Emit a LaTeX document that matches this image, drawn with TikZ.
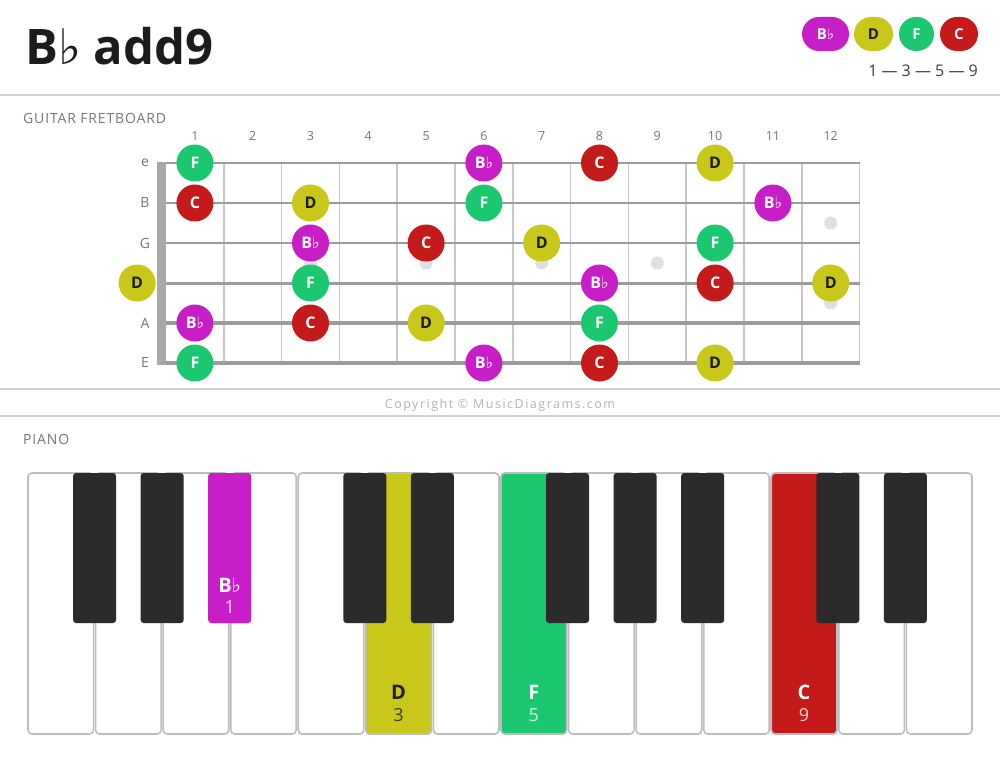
\documentclass[tikz,border=0pt]{standalone}
\usepackage{fontspec}
\setmainfont{Open Sans}
\newfontfamily\symfont{DejaVu Sans}
\usepackage{xcolor}
\definecolor{rootcol}{HTML}{C81EC8}
\definecolor{thirdcol}{HTML}{C9C81A}
\definecolor{fifthcol}{HTML}{1BC76F}
\definecolor{ninthcol}{HTML}{C41A1A}
\definecolor{darktext}{HTML}{1C1C1C}
\definecolor{rulecol}{HTML}{D2D2D2}
\definecolor{headcol}{HTML}{777777}
\definecolor{fretcol}{HTML}{C8C8C8}
\definecolor{stringcol}{HTML}{9C9C9C}
\definecolor{nutcol}{HTML}{A8A8A8}
\definecolor{dotcol}{HTML}{E0E0E0}
\definecolor{keyedge}{HTML}{BDBDBD}
\definecolor{keyblack}{HTML}{2B2B2B}
\definecolor{copycol}{HTML}{B4B4B4}
\newcommand{\flt}{{\symfont\mdseries\char"266D}}
\newcommand{\fsz}[1]{\fontsize{#1}{#1}\selectfont}

\begin{document}
\begin{tikzpicture}[x=1pt,y=-1pt]
    \pgfmathsetmacro{\nut}{166}
    \pgfmathsetmacro{\fw}{57.8}
    \pgfmathsetmacro{\kw}{67.57}
    \tikzset{
        note/.style={circle, minimum size=37pt, inner sep=0pt, font=\fsz{16}\bfseries},
        root/.style={note, fill=rootcol, text=white},
        third/.style={note, fill=thirdcol, text=darktext},
        fifth/.style={note, fill=fifthcol, text=white},
        ninth/.style={note, fill=ninthcol, text=white},
        chip/.style={rectangle, rounded corners=17pt, minimum height=34pt, font=\fsz{15}\bfseries},
        divider/.style={rulecol, line width=2pt},
        heading/.style={anchor=west, inner sep=0pt, text=headcol, font=\fsz{14}\addfontfeature{LetterSpace=6}},
        whitekey/.style={draw=keyedge, line width=1.6pt, rounded corners=4pt},
        blackkey/.style={rounded corners=3pt},
    }
    \fill[white] (0,0) rectangle (1000,759);
    \useasboundingbox (0,0) rectangle (1000,759);

    \node[anchor=base west, inner sep=0pt, font=\fsz{49}\bfseries, text=darktext] (title) at (25,65) {B\flt\ add9};

    \node[root, chip, minimum width=47pt] (leg-root) at (825.5,34) {B\flt};
    \node[third, chip, minimum width=39pt] (leg-third) at (873.5,34) {D};
    \node[fifth, chip, minimum width=35pt] (leg-fifth) at (916.5,34) {F};
    \node[ninth, chip, minimum width=38pt] (leg-ninth) at (959,34) {C};
    \node[anchor=east, inner sep=0pt, font=\fsz{16}, text=darktext!85] (formula) at (978,71) {1 — 3 — 5 — 9};

    \draw[divider] (0,95) -- (1000,95);
    \draw[divider] (0,389) -- (1000,389);
    \draw[divider] (0,416) -- (1000,416);

    \node[heading] (guitar) at (23,118) {GUITAR FRETBOARD};

    \foreach \k in {1,...,12}{
        \node[font=\fsz{12.5}, text=headcol] (fret-\k) at ({\nut+\fw*(\k-0.5)},136) {\k};
        \draw[fretcol, line width=1.6pt] ({\nut+\fw*\k},163) -- ({\nut+\fw*\k},363);
    }
    \foreach \k/\yy in {3/263,5/263,7/263,9/263,12/223,12/303}
        \fill[dotcol] ({\nut+\fw*(\k-0.5)},\yy) circle (6.5pt);
    \foreach \w [count=\i from 0] in {2,2.2,2.6,3,3.3,3.8}
        \draw[stringcol, line width=\w pt] (\nut,{163+40*\i}) -- ({\nut+\fw*12},{163+40*\i});
    \foreach \s/\i in {e/0,B/1,G/2,A/4,E/5}
        \node[font=\fsz{14}, text=headcol] (str-\s) at (145,{163+40*\i}) {\s};
    \fill[nutcol] (157,162) rectangle (\nut,365);

    \foreach \s/\k/\deg/\txt in {
        0/1/fifth/F, 0/6/root/B\flt, 0/8/ninth/C, 0/10/third/D,
        1/1/ninth/C, 1/3/third/D, 1/6/fifth/F, 1/11/root/B\flt,
        2/3/root/B\flt, 2/5/ninth/C, 2/7/third/D, 2/10/fifth/F,
        3/0/third/D, 3/3/fifth/F, 3/8/root/B\flt, 3/10/ninth/C, 3/12/third/D,
        4/1/root/B\flt, 4/3/ninth/C, 4/5/third/D, 4/8/fifth/F,
        5/1/fifth/F, 5/6/root/B\flt, 5/8/ninth/C, 5/10/third/D}
        \node[\deg] (n\s-\k) at ({\nut+\fw*(\k-0.5)},{163+40*\s}) {\txt};

    \node[font=\fsz{12.5}\addfontfeature{LetterSpace=12}, text=copycol] (copy) at (500,405) {Copyright © MusicDiagrams.com};

    \node[heading] (piano) at (23,439) {PIANO};

    \foreach \i in {0,...,13}
        \draw[whitekey, fill=white] ({27+\kw*\i+1},473) rectangle ({27+\kw*(\i+1)-1},734);
    \foreach \i/\c/\nm/\num/\tc in {5/thirdcol/D/3/darktext, 7/fifthcol/F/5/white, 11/ninthcol/C/9/white}{
        \draw[whitekey, fill=\c] ({27+\kw*\i+1},473) rectangle ({27+\kw*(\i+1)-1},734);
        \node[font=\fsz{20}\bfseries, text=\tc] (key-\nm) at ({27+\kw*(\i+0.5)},692) {\nm};
        \node[font=\fsz{18}, text=\tc!80!\c] (deg-\nm) at ({27+\kw*(\i+0.5)},715) {\num};
    }
    \foreach \b/\c in {1/keyblack,2/keyblack,3/rootcol,5/keyblack,6/keyblack,8/keyblack,9/keyblack,10/keyblack,12/keyblack,13/keyblack}
        \fill[blackkey, fill=\c] ({27+\kw*\b-21.5},473) rectangle ({27+\kw*\b+21.5},623);
    \node[font=\fsz{20}\bfseries, text=white] (key-Bb) at ({27+\kw*3},585) {B\flt};
    \node[font=\fsz{18}, text=white!85!rootcol] (deg-Bb) at ({27+\kw*3},607) {1};
\end{tikzpicture}
\end{document}
